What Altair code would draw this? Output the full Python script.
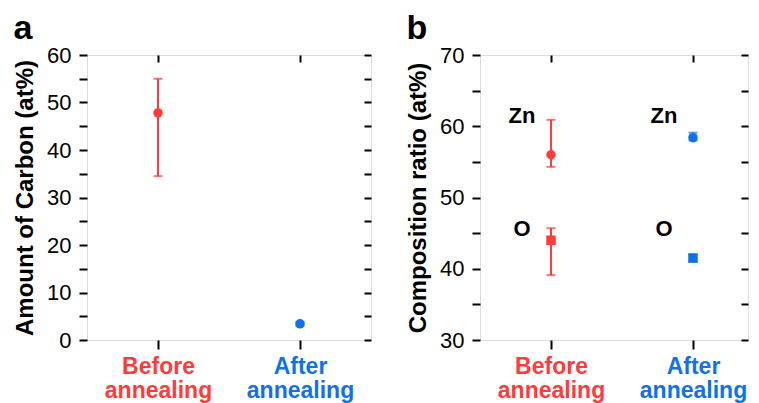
import altair as alt
import pandas as pd

RED = "#FF3B3B"
BLUE = "#1270E8"
FONT = "Liberation Sans"

categories = ["Before annealing", "After annealing"]

# panel a: carbon
carbon_mean = [47.8, 3.4]
carbon_low = [34.5, 3.0]
carbon_high = [55.0, 3.8]

# panel b: composition
zn_mean = [56.0, 58.4]
zn_low = [54.3, 58.0]
zn_high = [60.9, 59.1]
o_mean = [44.0, 41.5]
o_low = [39.1, 41.0]
o_high = [45.7, 42.0]
label_zn_y = 61.4
label_o_y = 45.6

H = 285

dfa = pd.DataFrame({"cat": categories, "m": carbon_mean, "lo": carbon_low, "hi": carbon_high})
dfb = pd.DataFrame({
    "cat": categories * 2,
    "el": ["Zn", "Zn", "O", "O"],
    "m": zn_mean + o_mean,
    "lo": zn_low + o_low,
    "hi": zn_high + o_high,
})
dfl = pd.DataFrame({
    "cat": categories * 2,
    "el": ["Zn", "Zn", "O", "O"],
    "y": [label_zn_y, label_zn_y, label_o_y, label_o_y],
})

color_scale = alt.Scale(domain=categories, range=[RED, BLUE])


def panel(df, domain, values, ytitle, letter, extra, width, xscale):
    yscale = alt.Scale(domain=domain, nice=False, zero=False)
    col = alt.Color("cat:N", scale=color_scale, legend=None)

    def X(axis=None):
        return alt.X("cat:N", scale=xscale, sort=categories, axis=axis)

    xaxis = alt.Axis(
        title=None, orient="bottom", labelAngle=0, domain=False,
        ticks=True, tickSize=9, tickWidth=2, tickColor="black",
        labelFont=FONT, labelFontSize=23, labelFontWeight="bold",
        labelExpr="split(datum.label, ' ')", labelLineHeight=24,
        labelPadding=6, labelAlign="center", labelBaseline="top",
        labelColor={"condition": {"test": "datum.value == 'Before annealing'", "value": RED}, "value": BLUE},
    )
    yaxis = alt.Axis(
        title=ytitle, orient="left", values=values,
        labelExpr="datum.value % 10 == 0 ? datum.label : ''",
        domain=False, tickSize=8, tickWidth=2, tickColor="black",
        labelFont=FONT, labelFontSize=22, labelColor="black", labelPadding=8,
        titleFont=FONT, titleFontSize=24, titleFontWeight="bold", titleColor="black",
        titlePadding=9, grid=False,
    )
    ry = alt.Axis(orient="right", title=None, labels=False, values=values, domain=False,
                  tickSize=7, tickWidth=2, tickColor="black", offset=-7, grid=False)
    tx = alt.Axis(orient="top", title=None, labels=False, domain=False,
                  tickSize=7, tickWidth=2, tickColor="black", offset=-7)

    rule = alt.Chart(df).mark_rule(strokeWidth=2).encode(
        x=X(xaxis), y=alt.Y("lo:Q", scale=yscale, axis=yaxis), y2="hi:Q", color=col,
    )
    cap_lo = alt.Chart(df).mark_tick(thickness=2, size=9).encode(
        x=X(), y=alt.Y("lo:Q", scale=yscale, axis=None), color=col,
    )
    cap_hi = alt.Chart(df).mark_tick(thickness=2, size=9).encode(
        x=X(), y=alt.Y("hi:Q", scale=yscale, axis=None), color=col,
    )
    frame = alt.Chart(df).mark_point(opacity=0).encode(
        x=X(tx), y=alt.Y("m:Q", scale=yscale, axis=ry),
    )
    layers = [rule, cap_lo, cap_hi] + extra(df, yscale, X, col) + [frame]
    return alt.layer(*layers).resolve_axis(y="independent", x="independent").properties(
        width=width, height=H,
        title=alt.TitleParams(letter, anchor="start", frame="bounds", fontSize=34,
                              fontWeight="bold", font=FONT, color="black", offset=-2),
    )


def pts_a(df, yscale, X, col):
    return [alt.Chart(df).mark_point(filled=True, shape="circle", size=90, opacity=1).encode(
        x=X(), y=alt.Y("m:Q", scale=yscale, axis=None), color=col,
    )]


def pts_b(df, yscale, X, col):
    circ = alt.Chart(df[df.el == "Zn"]).mark_point(filled=True, shape="circle", size=90, opacity=1).encode(
        x=X(), y=alt.Y("m:Q", scale=yscale, axis=None), color=col,
    )
    sq = alt.Chart(df[df.el == "O"]).mark_point(filled=True, shape="square", size=90, opacity=1).encode(
        x=X(), y=alt.Y("m:Q", scale=yscale, axis=None), color=col,
    )
    lab = alt.Chart(dfl).mark_text(font=FONT, fontSize=22, fontWeight="bold", color="black",
                                   dx=-29, align="center", baseline="middle").encode(
        x=X(), y=alt.Y("y:Q", scale=yscale, axis=None), text="el:N",
    )
    return [circ, sq, lab]


xs_a = alt.Scale(type="point", domain=categories, padding=0.5)
xs_b = alt.Scale(type="point", domain=categories, padding=0.44366, align=0.5635)

pa = panel(dfa, [0, 60], list(range(0, 61, 5)), "Amount of Carbon (at%)", "a", pts_a, 284, xs_a)
pb = panel(dfb, [30, 70], list(range(30, 71, 5)), "Composition ratio (at%)", "b", pts_b, 268, xs_b)

chart = alt.hconcat(pa, pb, spacing=33).properties(
    padding={"left": 5, "top": 3, "right": 0, "bottom": 0}
).configure_view(
    stroke="black", strokeWidth=2
).configure(background="white")

chart.save("out.html", embed_options={"renderer": "svg", "actions": False})
